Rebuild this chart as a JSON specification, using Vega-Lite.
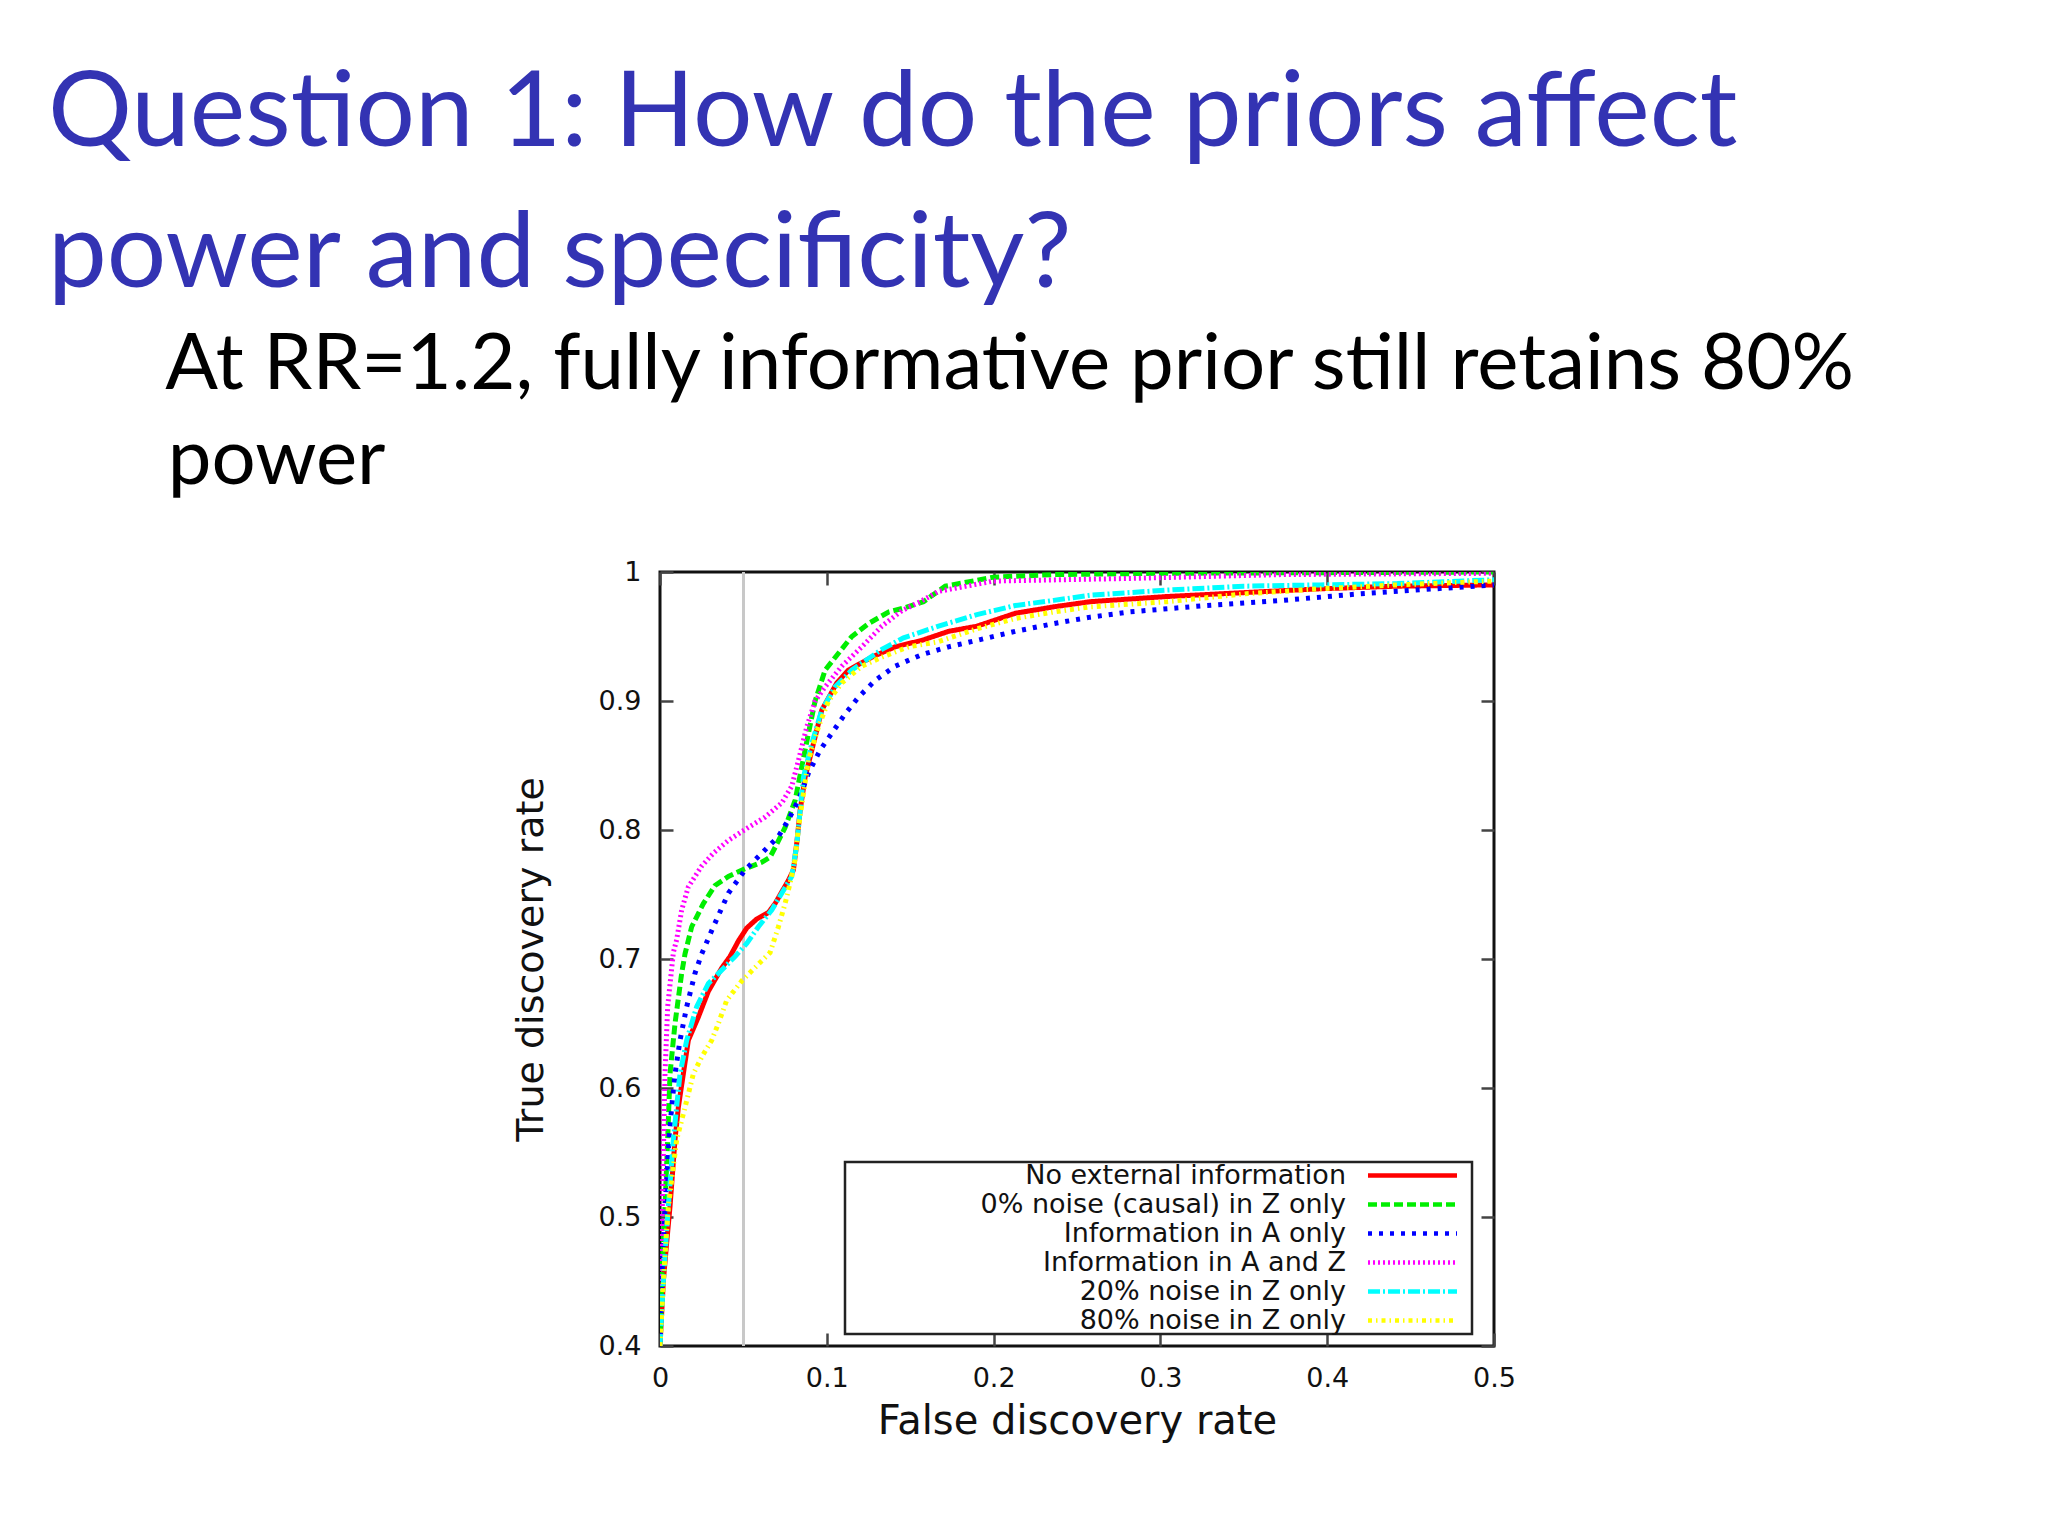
{
  "$schema": "https://vega.github.io/schema/vega-lite/v6.json",
  "width": 834,
  "height": 774,
  "autosize": {"type": "none"},
  "padding": {"left": 660, "top": 572, "right": 554, "bottom": 190},
  "background": "white",
  "title": {
    "text": ["Question 1: How do the priors affect", "power and specificity?"],
    "subtitle": ["\u200b\u00a0\u00a0\u00a0\u00a0\u00a0\u00a0At RR=1.2, fully informative prior still retains 80%", "\u200b\u00a0\u00a0\u00a0\u00a0\u00a0\u00a0power"],
    "anchor": "start",
    "frame": "group",
    "dx": -612,
    "offset": 57
  },
  "data": {
    "values": [
      {"series": "No external information", "fdr": 0, "tdr": 0.4},
      {"series": "No external information", "fdr": 0.002, "tdr": 0.45},
      {"series": "No external information", "fdr": 0.004, "tdr": 0.48},
      {"series": "No external information", "fdr": 0.006, "tdr": 0.508},
      {"series": "No external information", "fdr": 0.009, "tdr": 0.56},
      {"series": "No external information", "fdr": 0.011, "tdr": 0.585},
      {"series": "No external information", "fdr": 0.014, "tdr": 0.611},
      {"series": "No external information", "fdr": 0.017, "tdr": 0.637},
      {"series": "No external information", "fdr": 0.023, "tdr": 0.655},
      {"series": "No external information", "fdr": 0.029, "tdr": 0.675},
      {"series": "No external information", "fdr": 0.037, "tdr": 0.693},
      {"series": "No external information", "fdr": 0.042, "tdr": 0.702},
      {"series": "No external information", "fdr": 0.047, "tdr": 0.714},
      {"series": "No external information", "fdr": 0.052, "tdr": 0.724},
      {"series": "No external information", "fdr": 0.058, "tdr": 0.731},
      {"series": "No external information", "fdr": 0.065, "tdr": 0.736},
      {"series": "No external information", "fdr": 0.069, "tdr": 0.743},
      {"series": "No external information", "fdr": 0.077, "tdr": 0.761},
      {"series": "No external information", "fdr": 0.08, "tdr": 0.769},
      {"series": "No external information", "fdr": 0.082, "tdr": 0.79},
      {"series": "No external information", "fdr": 0.084, "tdr": 0.815},
      {"series": "No external information", "fdr": 0.087, "tdr": 0.841},
      {"series": "No external information", "fdr": 0.092, "tdr": 0.867},
      {"series": "No external information", "fdr": 0.097, "tdr": 0.893},
      {"series": "No external information", "fdr": 0.1, "tdr": 0.9},
      {"series": "No external information", "fdr": 0.106, "tdr": 0.914},
      {"series": "No external information", "fdr": 0.113, "tdr": 0.924},
      {"series": "No external information", "fdr": 0.127, "tdr": 0.934},
      {"series": "No external information", "fdr": 0.141, "tdr": 0.942},
      {"series": "No external information", "fdr": 0.157, "tdr": 0.947},
      {"series": "No external information", "fdr": 0.173, "tdr": 0.954},
      {"series": "No external information", "fdr": 0.19, "tdr": 0.958},
      {"series": "No external information", "fdr": 0.213, "tdr": 0.968},
      {"series": "No external information", "fdr": 0.236, "tdr": 0.973},
      {"series": "No external information", "fdr": 0.258, "tdr": 0.977},
      {"series": "No external information", "fdr": 0.304, "tdr": 0.981},
      {"series": "No external information", "fdr": 0.35, "tdr": 0.984},
      {"series": "No external information", "fdr": 0.396, "tdr": 0.987},
      {"series": "No external information", "fdr": 0.442, "tdr": 0.989},
      {"series": "No external information", "fdr": 0.5, "tdr": 0.99},

      {"series": "0% noise (causal) in Z only", "fdr": 0, "tdr": 0.4},
      {"series": "0% noise (causal) in Z only", "fdr": 0.001, "tdr": 0.45},
      {"series": "0% noise (causal) in Z only", "fdr": 0.002, "tdr": 0.48},
      {"series": "0% noise (causal) in Z only", "fdr": 0.003, "tdr": 0.508},
      {"series": "0% noise (causal) in Z only", "fdr": 0.0046, "tdr": 0.56},
      {"series": "0% noise (causal) in Z only", "fdr": 0.006, "tdr": 0.611},
      {"series": "0% noise (causal) in Z only", "fdr": 0.009, "tdr": 0.65},
      {"series": "0% noise (causal) in Z only", "fdr": 0.013, "tdr": 0.689},
      {"series": "0% noise (causal) in Z only", "fdr": 0.015, "tdr": 0.704},
      {"series": "0% noise (causal) in Z only", "fdr": 0.019, "tdr": 0.725},
      {"series": "0% noise (causal) in Z only", "fdr": 0.026, "tdr": 0.743},
      {"series": "0% noise (causal) in Z only", "fdr": 0.033, "tdr": 0.757},
      {"series": "0% noise (causal) in Z only", "fdr": 0.041, "tdr": 0.764},
      {"series": "0% noise (causal) in Z only", "fdr": 0.051, "tdr": 0.77},
      {"series": "0% noise (causal) in Z only", "fdr": 0.061, "tdr": 0.775},
      {"series": "0% noise (causal) in Z only", "fdr": 0.066, "tdr": 0.779},
      {"series": "0% noise (causal) in Z only", "fdr": 0.07, "tdr": 0.789},
      {"series": "0% noise (causal) in Z only", "fdr": 0.075, "tdr": 0.802},
      {"series": "0% noise (causal) in Z only", "fdr": 0.081, "tdr": 0.823},
      {"series": "0% noise (causal) in Z only", "fdr": 0.085, "tdr": 0.849},
      {"series": "0% noise (causal) in Z only", "fdr": 0.089, "tdr": 0.875},
      {"series": "0% noise (causal) in Z only", "fdr": 0.093, "tdr": 0.9},
      {"series": "0% noise (causal) in Z only", "fdr": 0.099, "tdr": 0.924},
      {"series": "0% noise (causal) in Z only", "fdr": 0.107, "tdr": 0.937},
      {"series": "0% noise (causal) in Z only", "fdr": 0.115, "tdr": 0.95},
      {"series": "0% noise (causal) in Z only", "fdr": 0.125, "tdr": 0.96},
      {"series": "0% noise (causal) in Z only", "fdr": 0.137, "tdr": 0.969},
      {"series": "0% noise (causal) in Z only", "fdr": 0.146, "tdr": 0.972},
      {"series": "0% noise (causal) in Z only", "fdr": 0.158, "tdr": 0.977},
      {"series": "0% noise (causal) in Z only", "fdr": 0.171, "tdr": 0.989},
      {"series": "0% noise (causal) in Z only", "fdr": 0.2, "tdr": 0.996},
      {"series": "0% noise (causal) in Z only", "fdr": 0.236, "tdr": 0.998},
      {"series": "0% noise (causal) in Z only", "fdr": 0.3, "tdr": 0.999},
      {"series": "0% noise (causal) in Z only", "fdr": 0.5, "tdr": 1.0},

      {"series": "Information in A only", "fdr": 0, "tdr": 0.4},
      {"series": "Information in A only", "fdr": 0.001, "tdr": 0.45},
      {"series": "Information in A only", "fdr": 0.002, "tdr": 0.48},
      {"series": "Information in A only", "fdr": 0.003, "tdr": 0.508},
      {"series": "Information in A only", "fdr": 0.0054, "tdr": 0.56},
      {"series": "Information in A only", "fdr": 0.007, "tdr": 0.585},
      {"series": "Information in A only", "fdr": 0.009, "tdr": 0.611},
      {"series": "Information in A only", "fdr": 0.012, "tdr": 0.637},
      {"series": "Information in A only", "fdr": 0.016, "tdr": 0.663},
      {"series": "Information in A only", "fdr": 0.021, "tdr": 0.689},
      {"series": "Information in A only", "fdr": 0.025, "tdr": 0.704},
      {"series": "Information in A only", "fdr": 0.032, "tdr": 0.725},
      {"series": "Information in A only", "fdr": 0.041, "tdr": 0.751},
      {"series": "Information in A only", "fdr": 0.051, "tdr": 0.769},
      {"series": "Information in A only", "fdr": 0.061, "tdr": 0.782},
      {"series": "Information in A only", "fdr": 0.071, "tdr": 0.795},
      {"series": "Information in A only", "fdr": 0.077, "tdr": 0.808},
      {"series": "Information in A only", "fdr": 0.083, "tdr": 0.823},
      {"series": "Information in A only", "fdr": 0.089, "tdr": 0.844},
      {"series": "Information in A only", "fdr": 0.096, "tdr": 0.862},
      {"series": "Information in A only", "fdr": 0.103, "tdr": 0.875},
      {"series": "Information in A only", "fdr": 0.111, "tdr": 0.89},
      {"series": "Information in A only", "fdr": 0.119, "tdr": 0.903},
      {"series": "Information in A only", "fdr": 0.129, "tdr": 0.916},
      {"series": "Information in A only", "fdr": 0.141, "tdr": 0.927},
      {"series": "Information in A only", "fdr": 0.157, "tdr": 0.936},
      {"series": "Information in A only", "fdr": 0.173, "tdr": 0.942},
      {"series": "Information in A only", "fdr": 0.19, "tdr": 0.947},
      {"series": "Information in A only", "fdr": 0.213, "tdr": 0.954},
      {"series": "Information in A only", "fdr": 0.236, "tdr": 0.96},
      {"series": "Information in A only", "fdr": 0.258, "tdr": 0.965},
      {"series": "Information in A only", "fdr": 0.281, "tdr": 0.969},
      {"series": "Information in A only", "fdr": 0.327, "tdr": 0.974},
      {"series": "Information in A only", "fdr": 0.373, "tdr": 0.978},
      {"series": "Information in A only", "fdr": 0.419, "tdr": 0.983},
      {"series": "Information in A only", "fdr": 0.465, "tdr": 0.987},
      {"series": "Information in A only", "fdr": 0.5, "tdr": 0.99},

      {"series": "Information in A and Z", "fdr": 0, "tdr": 0.4},
      {"series": "Information in A and Z", "fdr": 0.0007, "tdr": 0.45},
      {"series": "Information in A and Z", "fdr": 0.001, "tdr": 0.48},
      {"series": "Information in A and Z", "fdr": 0.0014, "tdr": 0.508},
      {"series": "Information in A and Z", "fdr": 0.003, "tdr": 0.611},
      {"series": "Information in A and Z", "fdr": 0.0046, "tdr": 0.663},
      {"series": "Information in A and Z", "fdr": 0.008, "tdr": 0.705},
      {"series": "Information in A and Z", "fdr": 0.01, "tdr": 0.715},
      {"series": "Information in A and Z", "fdr": 0.013, "tdr": 0.738},
      {"series": "Information in A and Z", "fdr": 0.017, "tdr": 0.756},
      {"series": "Information in A and Z", "fdr": 0.025, "tdr": 0.772},
      {"series": "Information in A and Z", "fdr": 0.032, "tdr": 0.782},
      {"series": "Information in A and Z", "fdr": 0.041, "tdr": 0.792},
      {"series": "Information in A and Z", "fdr": 0.053, "tdr": 0.802},
      {"series": "Information in A and Z", "fdr": 0.063, "tdr": 0.81},
      {"series": "Information in A and Z", "fdr": 0.073, "tdr": 0.821},
      {"series": "Information in A and Z", "fdr": 0.079, "tdr": 0.834},
      {"series": "Information in A and Z", "fdr": 0.083, "tdr": 0.854},
      {"series": "Information in A and Z", "fdr": 0.088, "tdr": 0.88},
      {"series": "Information in A and Z", "fdr": 0.093, "tdr": 0.9},
      {"series": "Information in A and Z", "fdr": 0.099, "tdr": 0.911},
      {"series": "Information in A and Z", "fdr": 0.109, "tdr": 0.927},
      {"series": "Information in A and Z", "fdr": 0.121, "tdr": 0.942},
      {"series": "Information in A and Z", "fdr": 0.133, "tdr": 0.958},
      {"series": "Information in A and Z", "fdr": 0.145, "tdr": 0.97},
      {"series": "Information in A and Z", "fdr": 0.156, "tdr": 0.977},
      {"series": "Information in A and Z", "fdr": 0.167, "tdr": 0.985},
      {"series": "Information in A and Z", "fdr": 0.2, "tdr": 0.993},
      {"series": "Information in A and Z", "fdr": 0.281, "tdr": 0.995},
      {"series": "Information in A and Z", "fdr": 0.373, "tdr": 0.998},
      {"series": "Information in A and Z", "fdr": 0.5, "tdr": 0.999},

      {"series": "20% noise in Z only", "fdr": 0, "tdr": 0.4},
      {"series": "20% noise in Z only", "fdr": 0.002, "tdr": 0.45},
      {"series": "20% noise in Z only", "fdr": 0.004, "tdr": 0.49},
      {"series": "20% noise in Z only", "fdr": 0.005, "tdr": 0.508},
      {"series": "20% noise in Z only", "fdr": 0.008, "tdr": 0.56},
      {"series": "20% noise in Z only", "fdr": 0.012, "tdr": 0.611},
      {"series": "20% noise in Z only", "fdr": 0.016, "tdr": 0.637},
      {"series": "20% noise in Z only", "fdr": 0.022, "tdr": 0.663},
      {"series": "20% noise in Z only", "fdr": 0.029, "tdr": 0.681},
      {"series": "20% noise in Z only", "fdr": 0.039, "tdr": 0.694},
      {"series": "20% noise in Z only", "fdr": 0.045, "tdr": 0.702},
      {"series": "20% noise in Z only", "fdr": 0.052, "tdr": 0.712},
      {"series": "20% noise in Z only", "fdr": 0.059, "tdr": 0.725},
      {"series": "20% noise in Z only", "fdr": 0.067, "tdr": 0.738},
      {"series": "20% noise in Z only", "fdr": 0.073, "tdr": 0.751},
      {"series": "20% noise in Z only", "fdr": 0.079, "tdr": 0.764},
      {"series": "20% noise in Z only", "fdr": 0.082, "tdr": 0.789},
      {"series": "20% noise in Z only", "fdr": 0.084, "tdr": 0.815},
      {"series": "20% noise in Z only", "fdr": 0.086, "tdr": 0.841},
      {"series": "20% noise in Z only", "fdr": 0.091, "tdr": 0.867},
      {"series": "20% noise in Z only", "fdr": 0.097, "tdr": 0.893},
      {"series": "20% noise in Z only", "fdr": 0.105, "tdr": 0.911},
      {"series": "20% noise in Z only", "fdr": 0.115, "tdr": 0.924},
      {"series": "20% noise in Z only", "fdr": 0.133, "tdr": 0.94},
      {"series": "20% noise in Z only", "fdr": 0.146, "tdr": 0.949},
      {"series": "20% noise in Z only", "fdr": 0.167, "tdr": 0.958},
      {"series": "20% noise in Z only", "fdr": 0.19, "tdr": 0.967},
      {"series": "20% noise in Z only", "fdr": 0.213, "tdr": 0.974},
      {"series": "20% noise in Z only", "fdr": 0.236, "tdr": 0.978},
      {"series": "20% noise in Z only", "fdr": 0.258, "tdr": 0.982},
      {"series": "20% noise in Z only", "fdr": 0.304, "tdr": 0.986},
      {"series": "20% noise in Z only", "fdr": 0.35, "tdr": 0.989},
      {"series": "20% noise in Z only", "fdr": 0.396, "tdr": 0.99},
      {"series": "20% noise in Z only", "fdr": 0.442, "tdr": 0.991},
      {"series": "20% noise in Z only", "fdr": 0.5, "tdr": 0.994},

      {"series": "80% noise in Z only", "fdr": 0, "tdr": 0.4},
      {"series": "80% noise in Z only", "fdr": 0.002, "tdr": 0.45},
      {"series": "80% noise in Z only", "fdr": 0.004, "tdr": 0.49},
      {"series": "80% noise in Z only", "fdr": 0.005, "tdr": 0.508},
      {"series": "80% noise in Z only", "fdr": 0.01, "tdr": 0.56},
      {"series": "80% noise in Z only", "fdr": 0.015, "tdr": 0.585},
      {"series": "80% noise in Z only", "fdr": 0.02, "tdr": 0.611},
      {"series": "80% noise in Z only", "fdr": 0.025, "tdr": 0.624},
      {"series": "80% noise in Z only", "fdr": 0.031, "tdr": 0.637},
      {"series": "80% noise in Z only", "fdr": 0.035, "tdr": 0.65},
      {"series": "80% noise in Z only", "fdr": 0.04, "tdr": 0.668},
      {"series": "80% noise in Z only", "fdr": 0.049, "tdr": 0.683},
      {"series": "80% noise in Z only", "fdr": 0.059, "tdr": 0.696},
      {"series": "80% noise in Z only", "fdr": 0.066, "tdr": 0.705},
      {"series": "80% noise in Z only", "fdr": 0.071, "tdr": 0.725},
      {"series": "80% noise in Z only", "fdr": 0.075, "tdr": 0.743},
      {"series": "80% noise in Z only", "fdr": 0.078, "tdr": 0.759},
      {"series": "80% noise in Z only", "fdr": 0.081, "tdr": 0.777},
      {"series": "80% noise in Z only", "fdr": 0.083, "tdr": 0.802},
      {"series": "80% noise in Z only", "fdr": 0.086, "tdr": 0.828},
      {"series": "80% noise in Z only", "fdr": 0.089, "tdr": 0.854},
      {"series": "80% noise in Z only", "fdr": 0.095, "tdr": 0.88},
      {"series": "80% noise in Z only", "fdr": 0.101, "tdr": 0.9},
      {"series": "80% noise in Z only", "fdr": 0.109, "tdr": 0.914},
      {"series": "80% noise in Z only", "fdr": 0.121, "tdr": 0.927},
      {"series": "80% noise in Z only", "fdr": 0.133, "tdr": 0.934},
      {"series": "80% noise in Z only", "fdr": 0.149, "tdr": 0.942},
      {"series": "80% noise in Z only", "fdr": 0.167, "tdr": 0.946},
      {"series": "80% noise in Z only", "fdr": 0.19, "tdr": 0.956},
      {"series": "80% noise in Z only", "fdr": 0.213, "tdr": 0.964},
      {"series": "80% noise in Z only", "fdr": 0.236, "tdr": 0.969},
      {"series": "80% noise in Z only", "fdr": 0.258, "tdr": 0.973},
      {"series": "80% noise in Z only", "fdr": 0.304, "tdr": 0.977},
      {"series": "80% noise in Z only", "fdr": 0.35, "tdr": 0.983},
      {"series": "80% noise in Z only", "fdr": 0.396, "tdr": 0.987},
      {"series": "80% noise in Z only", "fdr": 0.442, "tdr": 0.99},
      {"series": "80% noise in Z only", "fdr": 0.5, "tdr": 0.993}
    ]
  },
  "layer": [
    {
      "mark": {"type": "rule", "color": "#c8c8c8", "strokeWidth": 2},
      "encoding": {
        "x": {"datum": 0.05, "type": "quantitative", "scale": {"domain": [0, 0.5], "nice": false}, "axis": null}
      }
    },
    {
      "mark": {"type": "line", "strokeWidth": 5, "clip": true},
      "encoding": {
        "x": {
          "field": "fdr", "type": "quantitative",
          "scale": {"domain": [0, 0.5], "nice": false},
          "axis": {"orient": "bottom", "title": "False discovery rate", "values": [0, 0.1, 0.2, 0.3, 0.4, 0.5], "format": "~g", "labelFlush": false, "titlePadding": 10}
        },
        "y": {
          "field": "tdr", "type": "quantitative",
          "scale": {"domain": [0.4, 1], "nice": false, "zero": false},
          "axis": {"orient": "left", "title": "True discovery rate", "values": [0.4, 0.5, 0.6, 0.7, 0.8, 0.9, 1], "format": "~g", "labelFlush": false, "titlePadding": 48, "titleFontSize": 38}
        },
        "color": {
          "field": "series", "type": "nominal",
          "scale": {
            "domain": ["No external information", "0% noise (causal) in Z only", "Information in A only", "Information in A and Z", "20% noise in Z only", "80% noise in Z only"],
            "range": ["#ff0000", "#00ee00", "#0000ff", "#ff00ff", "#00ffff", "#ffff00"]
          }
        },
        "strokeDash": {
          "field": "series", "type": "nominal",
          "scale": {
            "domain": ["No external information", "0% noise (causal) in Z only", "Information in A only", "Information in A and Z", "20% noise in Z only", "80% noise in Z only"],
            "range": [[1, 0], [9, 4], [4, 7], [2, 3], [12, 3, 2, 3], [4, 4, 1.5, 4]]
          }
        }
      }
    },
    {
      "mark": {"type": "line", "opacity": 0},
      "encoding": {
        "x": {"field": "fdr", "type": "quantitative", "axis": {"orient": "top", "labels": false, "title": null, "values": [0, 0.1, 0.2, 0.3, 0.4, 0.5]}},
        "y": {"field": "tdr", "type": "quantitative", "axis": {"orient": "right", "labels": false, "title": null, "values": [0.4, 0.5, 0.6, 0.7, 0.8, 0.9, 1]}},
        "detail": {"field": "series"}
      }
    }
  ],
  "resolve": {"axis": {"x": "independent", "y": "independent"}},
  "config": {
    "view": {"stroke": "#111111", "strokeWidth": 3},
    "title": {
      "font": "Lato", "fontSize": 105, "fontWeight": "normal", "color": "#3333b3", "lineHeight": 141,
      "subtitleFont": "Lato", "subtitleFontSize": 78, "subtitleColor": "#000000", "subtitleLineHeight": 95, "subtitlePadding": 18
    },
    "axis": {
      "domain": false, "grid": false,
      "tickSize": -13, "tickWidth": 2.5, "tickColor": "#444444",
      "labelFont": "DejaVu Sans", "labelFontSize": 27, "labelColor": "#111111", "labelPadding": 32,
      "titleFont": "DejaVu Sans", "titleFontSize": 40, "titleFontWeight": "normal", "titleColor": "#111111"
    },
    "legend": {
      "orient": "none", "legendX": 185, "legendY": 590, "direction": "vertical",
      "title": null, "padding": 0,
      "strokeColor": "#222222", "strokeWidth": 2.5, "fillColor": "white",
      "labelFont": "DejaVu Sans", "labelFontSize": 27, "labelColor": "#111111",
      "labelAlign": "right", "labelOffset": -80, "labelLimit": 0,
      "symbolType": "M-4,0H4M4.5,0", "symbolSize": 495, "symbolStrokeWidth": 4.5, "symbolOffset": 554,
      "rowPadding": 1
    }
  }
}
